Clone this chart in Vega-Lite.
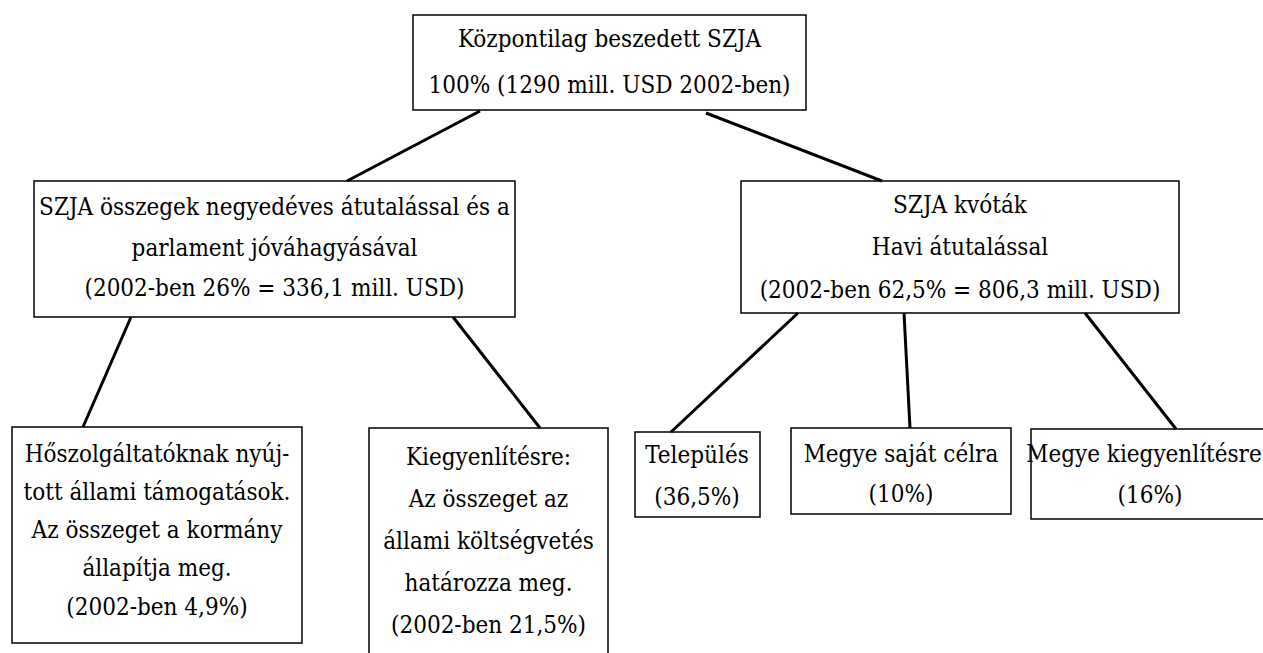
{
  "$schema": "https://vega.github.io/schema/vega-lite/v6.json",
  "width": 1263,
  "height": 653,
  "autosize": {"type": "fit", "contains": "padding"},
  "padding": 0,
  "background": "white",
  "config": {"view": {"stroke": null}},
  "datasets": {
    "boxes": [
      {"id": "root", "x1": 413, "x2": 806, "y1": 15, "y2": 110},
      {"id": "negyedeves", "x1": 34, "x2": 515, "y1": 181, "y2": 317},
      {"id": "kvotak", "x1": 741, "x2": 1179, "y1": 181, "y2": 313},
      {"id": "hoszolg", "x1": 12, "x2": 302, "y1": 427, "y2": 643},
      {"id": "kiegy", "x1": 369, "x2": 608, "y1": 428, "y2": 665},
      {"id": "telepules", "x1": 635, "x2": 760, "y1": 432, "y2": 517},
      {"id": "megye_sajat", "x1": 791, "x2": 1011, "y1": 428, "y2": 514},
      {"id": "megye_kiegy", "x1": 1031, "x2": 1275, "y1": 429, "y2": 519}
    ],
    "links": [
      {"x1": 480, "y1": 111, "x2": 347, "y2": 181},
      {"x1": 706, "y1": 113, "x2": 882, "y2": 181},
      {"x1": 131, "y1": 317, "x2": 83, "y2": 427},
      {"x1": 453, "y1": 317, "x2": 540, "y2": 428},
      {"x1": 798, "y1": 313, "x2": 671, "y2": 432},
      {"x1": 904, "y1": 313, "x2": 910, "y2": 428},
      {"x1": 1085, "y1": 313, "x2": 1176, "y2": 429}
    ],
    "labels": [
      {"x": 609.5, "y": 47, "label": "Központilag beszedett SZJA"},
      {"x": 609.5, "y": 93, "label": "100% (1290 mill. USD 2002-ben)"},
      {"x": 274.5, "y": 215, "label": "SZJA összegek negyedéves átutalással és a"},
      {"x": 274.5, "y": 256, "label": "parlament jóváhagyásával"},
      {"x": 274.5, "y": 296, "label": "(2002-ben 26% = 336,1 mill. USD)"},
      {"x": 960, "y": 213, "label": "SZJA kvóták"},
      {"x": 960, "y": 255, "label": "Havi átutalással"},
      {"x": 960, "y": 298, "label": "(2002-ben 62,5% = 806,3 mill. USD)"},
      {"x": 157, "y": 462, "label": "Hőszolgáltatóknak nyúj-"},
      {"x": 157, "y": 500, "label": "tott állami támogatások."},
      {"x": 157, "y": 538, "label": "Az összeget a kormány"},
      {"x": 157, "y": 576, "label": "állapítja meg."},
      {"x": 157, "y": 615, "label": "(2002-ben 4,9%)"},
      {"x": 488.5, "y": 465, "label": "Kiegyenlítésre:"},
      {"x": 488.5, "y": 507, "label": "Az összeget az"},
      {"x": 488.5, "y": 549, "label": "állami költségvetés"},
      {"x": 488.5, "y": 591, "label": "határozza meg."},
      {"x": 488.5, "y": 633, "label": "(2002-ben 21,5%)"},
      {"x": 697, "y": 463, "label": "Település"},
      {"x": 697, "y": 505, "label": "(36,5%)"},
      {"x": 901, "y": 462, "label": "Megye saját célra"},
      {"x": 901, "y": 502, "label": "(10%)"},
      {"x": 1144, "y": 462, "label": "Megye kiegyenlítésre"},
      {"x": 1150, "y": 503, "label": "(16%)"}
    ]
  },
  "layer": [
    {
      "data": {"name": "boxes"},
      "mark": {"type": "rect", "fill": "white", "stroke": "black", "strokeWidth": 1.5, "clip": true},
      "encoding": {
        "x": {"field": "x1", "type": "quantitative", "scale": {"domain": [0, 1263], "nice": false, "zero": false}, "axis": null},
        "x2": {"field": "x2"},
        "y": {"field": "y1", "type": "quantitative", "scale": {"domain": [0, 653], "reverse": true, "nice": false, "zero": false}, "axis": null},
        "y2": {"field": "y2"}
      }
    },
    {
      "data": {"name": "links"},
      "mark": {"type": "rule", "color": "black", "strokeWidth": 3},
      "encoding": {
        "x": {"field": "x1", "type": "quantitative"},
        "x2": {"field": "x2"},
        "y": {"field": "y1", "type": "quantitative"},
        "y2": {"field": "y2"}
      }
    },
    {
      "data": {"name": "labels"},
      "mark": {"type": "text", "font": "DejaVu Serif Condensed", "fontSize": 24, "align": "center", "baseline": "alphabetic", "color": "#000000", "clip": true},
      "encoding": {
        "x": {"field": "x", "type": "quantitative"},
        "y": {"field": "y", "type": "quantitative"},
        "text": {"field": "label"}
      }
    }
  ]
}
